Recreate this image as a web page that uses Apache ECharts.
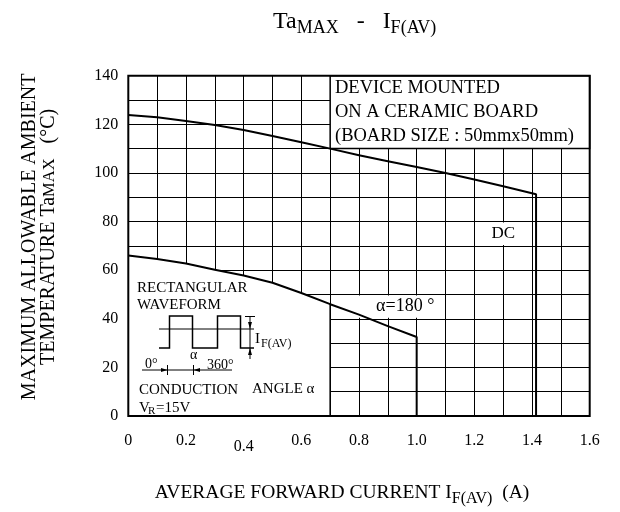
<!DOCTYPE html>
<html><head><meta charset="utf-8">
<script src="https://cdn.jsdelivr.net/npm/echarts@6/dist/echarts.min.js"></script>
<style>html,body{margin:0;padding:0;background:#fff}#c{width:620px;height:512px}</style>
</head><body><div id="c"></div>
<script>
// ---- data ----
const xTickLabels = ['0','0.2','0.4','0.6','0.8','1.0','1.2','1.4','1.6'];
const yTickLabels = ['0','20','40','60','80','100','120','140'];
const dcX  = [0, 0.1, 0.2, 0.3, 0.4, 0.5, 0.6, 0.7, 0.8, 0.9, 1.0, 1.1, 1.2, 1.3, 1.414, 1.414];
const dcY  = [123.8, 122.9, 121.4, 119.7, 117.7, 115.2, 112.6, 110.0, 107.3, 104.8, 102.4, 100.0, 97.3, 94.5, 91.2, 0];
const a180X = [0, 0.1, 0.2, 0.3, 0.4, 0.5, 0.6, 0.7, 0.8, 0.9, 1.0, 1.0];
const a180Y = [66.0, 64.6, 62.7, 60.2, 57.8, 54.8, 50.6, 46.0, 41.7, 37.0, 32.5, 0];

const FF = '"Liberation Serif","Times New Roman",serif';
const pairs = (xs, ys) => xs.map((x, i) => [x, ys[i]]);
const dcData = pairs(dcX, dcY);
const a180Data = pairs(a180X, a180Y);
const insetFill = a180Data.filter(p => p[0] <= 0.7);
const insetEdgeTop = a180Y[a180X.indexOf(0.7)];

const chart = echarts.init(document.getElementById('c'), null, {renderer: 'canvas'});

const option = {
  animation: false,
  backgroundColor: '#fff',
  title: {
    text: 'Ta{s|MAX}   -   I{s|F(AV)}',
    left: 268, top: 1,
    textStyle: {
      fontFamily: FF, fontSize: 24, fontWeight: 'normal', color: '#000', lineHeight: 31,
      rich: { s: { fontFamily: FF, fontSize: 18, color: '#000', verticalAlign: 'bottom', lineHeight: 31 } }
    }
  },
  grid: { left: 128.3, right: 30.3, top: 75.7, bottom: 95.3, show: false },
  xAxis: {
    type: 'value', min: 0, max: 1.6, interval: 0.2,
    axisLine: { show: false }, axisTick: { show: false },
    splitLine: { show: true, lineStyle: { color: '#000', width: 1 } },
    minorTick: { show: false, splitNumber: 2 },
    minorSplitLine: { show: true, lineStyle: { color: '#000', width: 1 } },
    axisLabel: {
      fontFamily: FF, fontSize: 16, color: '#000', margin: 17,
      formatter: v => {
        const i = Math.round(v / 0.2);
        const t = xTickLabels[i];
        return t === '0.4' ? '{low|' + t + '}' : t;
      },
      rich: { low: { fontFamily: FF, fontSize: 16, color: '#000', padding: [6, 0, 0, 0] } }
    },
    name: 'AVERAGE FORWARD CURRENT I{s|F(AV)}  (A)',
    nameLocation: 'middle', nameGap: 63,
    nameTextStyle: {
      fontFamily: FF, fontSize: 19.5, color: '#000', lineHeight: 28, padding: [0, 34, 0, 0],
      rich: { s: { fontFamily: FF, fontSize: 16, color: '#000', verticalAlign: 'bottom', lineHeight: 28 } }
    }
  },
  yAxis: {
    type: 'value', min: 0, max: 140, interval: 20,
    axisLine: { show: false }, axisTick: { show: false },
    splitLine: { show: true, lineStyle: { color: '#000', width: 1 } },
    minorTick: { show: false, splitNumber: 2 },
    minorSplitLine: { show: true, lineStyle: { color: '#000', width: 1 } },
    axisLabel: {
      fontFamily: FF, fontSize: 16, color: '#000', margin: 10,
      formatter: v => yTickLabels[Math.round(v / 20)]
    },
    name: '{m|MAXIMUM ALLOWABLE AMBIENT}\n{m|TEMPERATURE Ta}{s|MAX}{m|   (°C)}',
    nameLocation: 'middle', nameRotate: 90, nameGap: 70,
    nameTextStyle: {
      fontFamily: FF, fontSize: 20, color: '#000', align: 'center', padding: [0, 0, 0, 18],
      rich: {
        m: { fontFamily: FF, fontSize: 20, color: '#000', lineHeight: 19, verticalAlign: 'middle' },
        s: { fontFamily: FF, fontSize: 16.5, color: '#000', lineHeight: 19, verticalAlign: 'bottom' }
      }
    }
  },
  series: [
    {
      // white inset background under the 180° curve, plus text boxes
      type: 'line', data: insetFill, symbol: 'none', silent: true, z: 1,
      lineStyle: { width: 0, opacity: 0 },
      areaStyle: { color: '#fff', opacity: 1 },
      markArea: {
        silent: true,
        data: [
          [ { coord: [0.7, 110], itemStyle: { color: '#fff', borderColor: '#000', borderWidth: 1.5 } }, { coord: [1.6, 140] } ],
          [ { coord: [1.204, 70.4], itemStyle: { color: '#fff', borderWidth: 0 },
              label: { show: true, position: 'inside', formatter: 'DC', fontFamily: FF, fontSize: 17, color: '#000' } },
            { coord: [1.396, 79.6] } ],
          [ { coord: [0.704, 40.4], itemStyle: { color: '#fff', borderWidth: 0 },
              label: { show: true, position: 'insideRight', distance: 10, formatter: 'α=180 °', fontFamily: FF, fontSize: 18, color: '#000' } },
            { coord: [1.096, 49.6] } ]
        ]
      }
    },
    {
      type: 'line', data: [[0.7, 0], [0.7, insetEdgeTop]], symbol: 'none', silent: true, z: 2,
      lineStyle: { color: '#000', width: 1.5 }
    },
    {
      name: 'DC', type: 'line', data: dcData, symbol: 'none', z: 3,
      lineStyle: { color: '#000', width: 2 }
    },
    {
      name: 'α=180°', type: 'line', data: a180Data, symbol: 'none', z: 3,
      lineStyle: { color: '#000', width: 2 }
    }
  ]
};
chart.setOption(option);

// plot frame and annotations (inset waveform sketch)
const p0 = chart.convertToPixel({gridIndex: 0}, [0, 0]);
const p1 = chart.convertToPixel({gridIndex: 0}, [1.6, 140]);
const txt = (text, x, y, size, extra) => Object.assign({
  type: 'text', z: 100, silent: true,
  style: { text, x, y, fill: '#000', font: size + 'px ' + FF, verticalAlign: 'middle', textVerticalAlign: 'middle' }
}, extra || {});
const line = (pts, w) => ({ type: 'polyline', z: 100, silent: true, shape: { points: pts }, style: { stroke: '#000', lineWidth: w || 1, fill: null } });
const tri = (pts) => ({ type: 'polygon', z: 100, silent: true, shape: { points: pts }, style: { fill: '#000' } });

chart.setOption({
  graphic: [
    { type: 'rect', z: 100, silent: true,
      shape: { x: p0[0], y: p1[1], width: p1[0] - p0[0], height: p0[1] - p1[1] },
      style: { fill: null, stroke: '#000', lineWidth: 2 } },
    // text box top-right
    txt('DEVICE MOUNTED', 335, 88, 18.5),
    txt('ON A CERAMIC BOARD', 335, 112, 18.5),
    txt('(BOARD SIZE : 50mmx50mm)', 335, 136, 18.5),
    // inset
    txt('RECTANGULAR', 137, 288, 15),
    txt('WAVEFORM', 137, 305, 15),
    line([[159,348],[169.5,348],[169.5,316],[192.5,316],[192.5,348],[217.5,348],[217.5,316],[240.5,316],[240.5,348],[254,348]], 1.5),
    line([[159,329],[254,329]], 1),
    line([[250,317],[250,359]], 1),
    line([[245,316.5],[255,316.5]], 1),
    tri([[250,329],[248,322],[252,322]]),
    tri([[250,348],[248,355],[252,355]]),
    txt('I', 255, 339, 15),
    txt('F(AV)', 261, 344, 12),
    txt('0°', 145, 364, 14),
    txt('α', 190, 355, 14),
    txt('360°', 207, 365, 14),
    line([[142,370],[232,370]], 1),
    line([[167.5,365],[167.5,375]], 1),
    line([[193.5,365],[193.5,375]], 1),
    tri([[167.5,370],[161,368],[161,372]]),
    tri([[193.5,370],[200,368],[200,372]]),
    txt('CONDUCTION', 139, 390, 15),
    txt('ANGLE α', 252, 389, 15),
    txt('V', 139, 408, 15),
    txt('R', 148, 411, 11),
    txt('=15V', 156, 408, 15)
  ]
});
</script>
</body></html>
